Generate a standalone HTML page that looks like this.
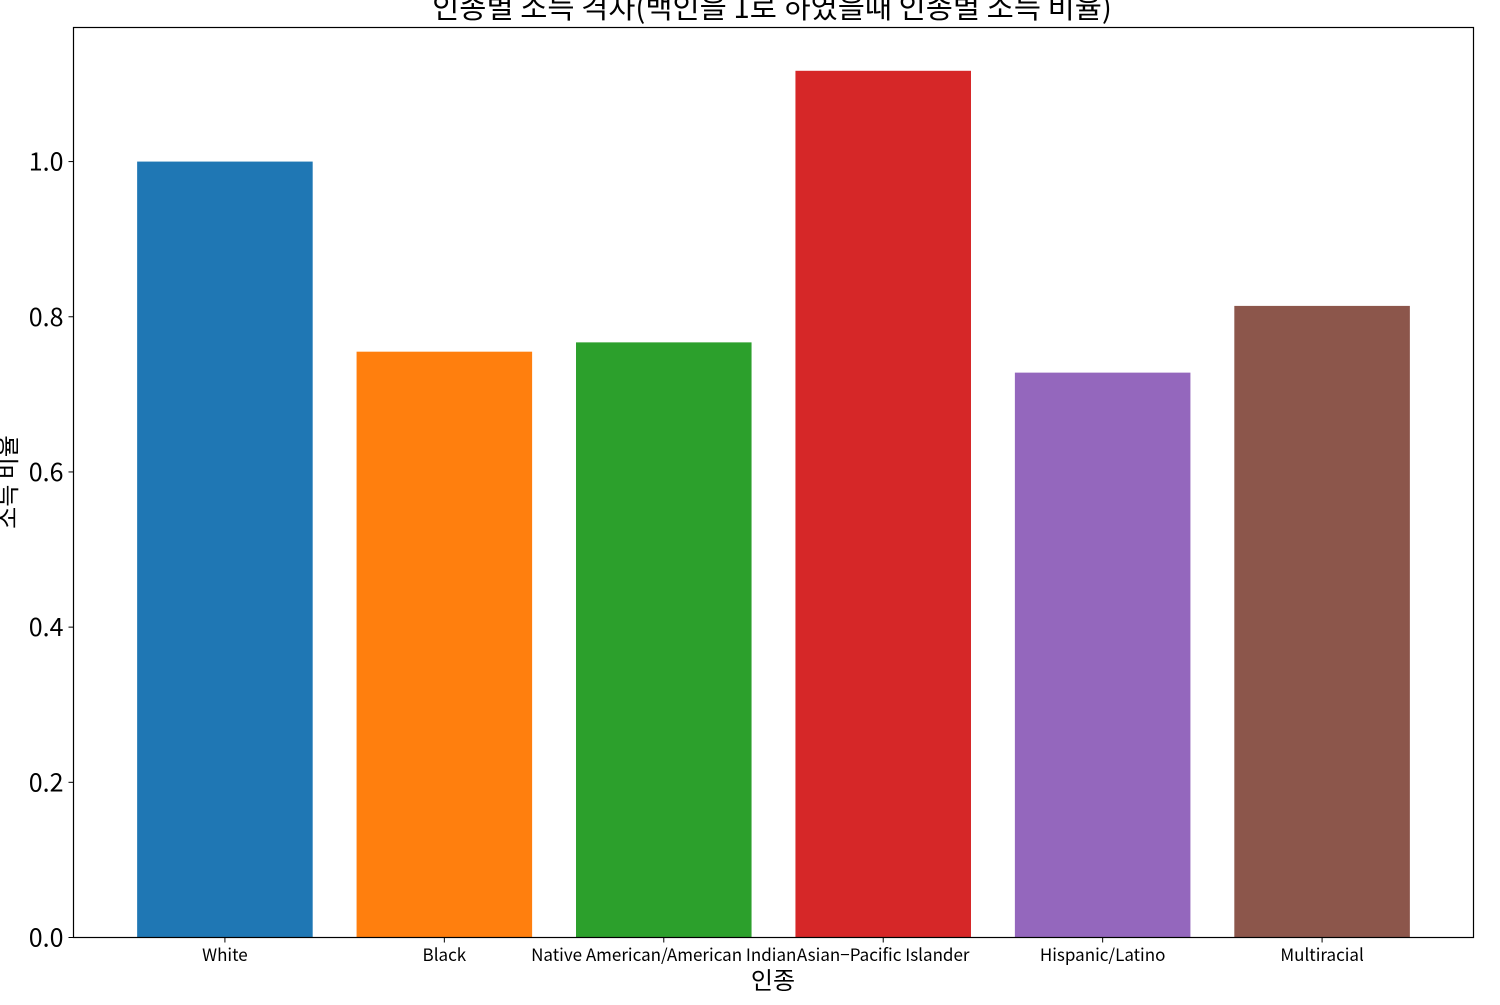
<!DOCTYPE html>
<html><head><meta charset="utf-8"><style>
body{margin:0;background:#fff;width:1500px;height:1000px;overflow:hidden}
svg text{font-family:"Noto Sans CJK KR","Liberation Sans",sans-serif;fill:#000}
</style></head><body>
<svg id="chart" width="1500" height="1000" xmlns="http://www.w3.org/2000/svg">
<text x="772" y="18" font-size="29.5" text-anchor="middle">인종별 소득 격차(백인을 1로 하였을때 인종별 소득 비율)</text>
<g id="bars"></g>
<g id="axes"></g>
<rect x="73.5" y="27.5" width="1400" height="910" fill="none" stroke="#000" stroke-width="1.2"/>
<text x="773" y="989" font-size="24" text-anchor="middle">인종</text>
<text transform="translate(16,482) rotate(-90)" font-size="24" text-anchor="middle">소득 비율</text>
</svg>
<script>
const categories=["White","Black","Native American/American Indian","Asian−Pacific Islander","Hispanic/Latino","Multiracial"];
const ratios=[1.0,0.755,0.767,1.117,0.728,0.814];
const colors=["#1f77b4","#ff7f0e","#2ca02c","#d62728","#9467bd","#8c564b"];
const yTicks=[0,0.2,0.4,0.6,0.8,1.0];
const yTickLabels=["0.0","0.2","0.4","0.6","0.8","1.0"];
const NS="http://www.w3.org/2000/svg";
const L=73.5,R=1473.5,T=27.5,B=937.5;
const yMax=1.1728;
const yScale=v=>B-v/yMax*(B-T);
const xMin=-0.69,xMax=5.69;
const xScale=i=>L+(i-xMin)/(xMax-xMin)*(R-L);
const bw=0.8*(R-L)/(xMax-xMin);
const gb=document.getElementById('bars'),ga=document.getElementById('axes');
ratios.forEach((v,i)=>{
 const r=document.createElementNS(NS,'rect');
 r.setAttribute('x',xScale(i)-bw/2);r.setAttribute('width',bw);
 r.setAttribute('y',yScale(v));r.setAttribute('height',B-yScale(v));
 r.setAttribute('fill',colors[i]);
 
 
 gb.appendChild(r);
 const tk=document.createElementNS(NS,'line');
 tk.setAttribute('x1',xScale(i));tk.setAttribute('x2',xScale(i));tk.setAttribute('y1',B);tk.setAttribute('y2',B+5);tk.setAttribute('stroke','#000');
 
 
 ga.appendChild(tk);
 const t=document.createElementNS(NS,'text');
 t.setAttribute('x',xScale(i));t.setAttribute('y',961);t.setAttribute('font-size','17');t.setAttribute('text-anchor','middle');
 t.textContent=categories[i];
 
 
 ga.appendChild(t);
});
yTicks.forEach((v,i)=>{
 const y=yScale(v);
 const tk=document.createElementNS(NS,'line');
 tk.setAttribute('x1',L-5);tk.setAttribute('x2',L);tk.setAttribute('y1',y);tk.setAttribute('y2',y);tk.setAttribute('stroke','#000');
 
 
 ga.appendChild(tk);
 const t=document.createElementNS(NS,'text');
 t.setAttribute('x',L-10);t.setAttribute('y',y+9);t.setAttribute('font-size','25');t.setAttribute('text-anchor','end');
 t.textContent=yTickLabels[i];
 
 
 ga.appendChild(t);
});
</script>
</body></html>
